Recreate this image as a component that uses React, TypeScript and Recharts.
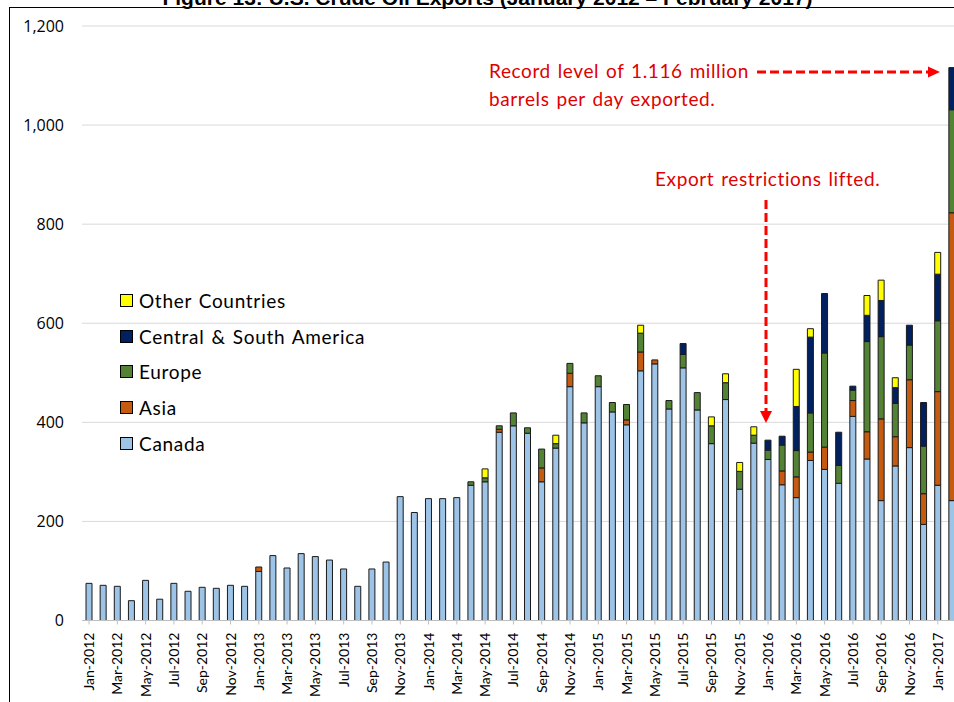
import React from "react";
import { BarChart, Bar, XAxis, YAxis, CartesianGrid } from "recharts";

const MONTHS = [
  "Jan-2012", "Feb-2012", "Mar-2012", "Apr-2012", "May-2012", "Jun-2012", "Jul-2012", "Aug-2012", "Sep-2012", "Oct-2012", "Nov-2012", "Dec-2012",
  "Jan-2013", "Feb-2013", "Mar-2013", "Apr-2013", "May-2013", "Jun-2013", "Jul-2013", "Aug-2013", "Sep-2013", "Oct-2013", "Nov-2013", "Dec-2013",
  "Jan-2014", "Feb-2014", "Mar-2014", "Apr-2014", "May-2014", "Jun-2014", "Jul-2014", "Aug-2014", "Sep-2014", "Oct-2014", "Nov-2014", "Dec-2014",
  "Jan-2015", "Feb-2015", "Mar-2015", "Apr-2015", "May-2015", "Jun-2015", "Jul-2015", "Aug-2015", "Sep-2015", "Oct-2015", "Nov-2015", "Dec-2015",
  "Jan-2016", "Feb-2016", "Mar-2016", "Apr-2016", "May-2016", "Jun-2016", "Jul-2016", "Aug-2016", "Sep-2016", "Oct-2016", "Nov-2016", "Dec-2016",
  "Jan-2017", "Feb-2017",
];

// thousand barrels per day, by destination
const canada = [
  75, 71, 69, 40, 81, 43, 75, 59, 67, 65, 71, 69,
  99, 131, 106, 135, 129, 122, 104, 69, 104, 118, 250, 218,
  246, 246, 248, 273, 280, 380, 393, 378, 280, 348, 472, 399,
  472, 421, 395, 504, 518, 427, 510, 425, 357, 446, 265, 358,
  325, 274, 248, 323, 305, 277, 412, 326, 242, 312, 349, 194,
  273, 242,
];
const asia = [
  0, 0, 0, 0, 0, 0, 0, 0, 0, 0, 0, 0,
  9, 0, 0, 0, 0, 0, 0, 0, 0, 0, 0, 0,
  0, 0, 0, 0, 0, 6, 0, 0, 28, 0, 27, 0,
  0, 0, 10, 38, 8, 0, 0, 0, 0, 0, 0, 0,
  0, 28, 42, 17, 45, 0, 32, 55, 165, 59, 137, 62,
  189, 581,
];
const europe = [
  0, 0, 0, 0, 0, 0, 0, 0, 0, 0, 0, 0,
  0, 0, 0, 0, 0, 0, 0, 0, 0, 0, 0, 0,
  0, 0, 0, 7, 8, 7, 26, 11, 38, 9, 20, 20,
  22, 19, 31, 38, 0, 17, 27, 35, 36, 34, 36, 16,
  19, 52, 53, 79, 190, 36, 21, 182, 166, 67, 70, 96,
  143, 208,
];
const centralSouthAmerica = [
  0, 0, 0, 0, 0, 0, 0, 0, 0, 0, 0, 0,
  0, 0, 0, 0, 0, 0, 0, 0, 0, 0, 0, 0,
  0, 0, 0, 0, 0, 0, 0, 0, 0, 0, 0, 0,
  0, 0, 0, 0, 0, 0, 22, 0, 0, 0, 0, 0,
  20, 18, 89, 153, 120, 67, 8, 53, 73, 32, 40, 88,
  94, 85,
];
const otherCountries = [
  0, 0, 0, 0, 0, 0, 0, 0, 0, 0, 0, 0,
  0, 0, 0, 0, 0, 0, 0, 0, 0, 0, 0, 0,
  0, 0, 0, 0, 18, 0, 0, 0, 0, 17, 0, 0,
  0, 0, 0, 16, 0, 0, 0, 0, 18, 18, 18, 17,
  0, 0, 75, 17, 0, 0, 0, 40, 41, 20, 0, 0,
  44, 0,
];

const Y_TICKS = [0, 200, 400, 600, 800, 1000, 1200];

// stacking order, bottom to top
const SERIES = [
  { key: "canada", name: "Canada", color: "#9dc3e6" },
  { key: "asia", name: "Asia", color: "#c55a11" },
  { key: "europe", name: "Europe", color: "#548235" },
  { key: "csa", name: "Central & South America", color: "#002060" },
  { key: "other", name: "Other Countries", color: "#ffff00" },
];

const data = MONTHS.map((m, i) => ({
  month: m,
  canada: canada[i],
  asia: asia[i],
  europe: europe[i],
  csa: centralSouthAmerica[i],
  other: otherCountries[i],
}));

const RED = "#e00000";
const LABEL_FONT = "Lato, 'Open Sans', sans-serif";

function MonthTick(props: any) {
  const { x, y, payload } = props;
  return (
    <text
      x={x}
      y={y}
      dy="0.36em"
      transform={`rotate(-90, ${x}, ${y})`}
      textAnchor="end"
      fontFamily={LABEL_FONT}
      fontSize={14}
      fill="#000"
    >
      {payload.value}
    </text>
  );
}

const noteStyle = { letterSpacing: 0.6, wordSpacing: 1.5 };

export default function App() {
  return (
    <div style={{ position: "absolute", left: 0, top: 0, width: 954, height: 702, overflow: "hidden", background: "#fff" }}>
      {/* chart frame */}
      <div style={{ position: "absolute", left: 9, top: 7, width: 1000, height: 760, border: "1px solid #000" }} />

      <div style={{ position: "absolute", left: 0, top: 0 }}>
        <BarChart width={959} height={702} data={data} margin={{ top: 26, right: 0, bottom: 0, left: 0 }} barSize={6}>
          <CartesianGrid vertical={false} stroke="#d9d9d9" />
          <XAxis
            dataKey="month"
            interval={1}
            height={81.5}
            tick={<MonthTick />}
            tickSize={4}
            tickMargin={8}
            axisLine={{ stroke: "#bfbfbf" }}
            tickLine={{ stroke: "#bfbfbf" }}
          />
          <YAxis
            domain={[0, 1200]}
            ticks={Y_TICKS}
            width={82}
            axisLine={false}
            tickLine={false}
            tickSize={0}
            tickMargin={18}
            tickFormatter={(v: number) => v.toLocaleString("en-US")}
            tick={{ fontFamily: "'Open Sans', sans-serif", fontSize: 16, fill: "#000" }}
          />
          {SERIES.map((s) => (
            <Bar
              key={s.key}
              dataKey={s.key}
              name={s.name}
              stackId="exports"
              fill={s.color}
              stroke="#1a1a1a"
              strokeWidth={1}
              isAnimationActive={false}
            />
          ))}
        </BarChart>
      </div>

      {/* legend */}
      <div style={{ position: "absolute", left: 120, top: 283, fontFamily: LABEL_FONT, fontSize: 19, letterSpacing: 0.7, wordSpacing: 1.5, color: "#000" }}>
        {[...SERIES].reverse().map((s) => (
          <div key={s.key} style={{ display: "flex", alignItems: "center", height: 35.6 }}>
            <span style={{ display: "inline-block", width: 11, height: 11, background: s.color, border: "1px solid #000", marginRight: 6 }} />
            <span>{s.name}</span>
          </div>
        ))}
      </div>

      {/* title and annotations */}
      <svg width={954} height={702} style={{ position: "absolute", left: 0, top: 0, pointerEvents: "none" }}>
        <text x={487.5} y={5} textAnchor="middle" fontFamily="'Liberation Sans', Arial, sans-serif" fontWeight="bold" fontSize={21} fill="#000">
          Figure 13: U.S. Crude Oil Exports (January 2012 – February 2017)
        </text>

        <text x={489} y={78} fontFamily={LABEL_FONT} fontSize={19} fill={RED} style={noteStyle}>Record level of 1.116 million</text>
        <text x={489} y={106} fontFamily={LABEL_FONT} fontSize={19} fill={RED} style={noteStyle}>barrels per day exported.</text>
        <line x1={757} y1={72} x2={929} y2={72} stroke="#ff0000" strokeWidth={3} strokeDasharray="9 4" />
        <polygon points="928,66.5 940,72 928,77.5" fill="#ff0000" />

        <text x={655} y={186} fontFamily={LABEL_FONT} fontSize={19} fill={RED} style={noteStyle}>Export restrictions lifted.</text>
        <line x1={766} y1={200} x2={766} y2={412} stroke="#ff0000" strokeWidth={3} strokeDasharray="9 4" />
        <polygon points="760,411 772,411 766,423" fill="#ff0000" />
      </svg>
    </div>
  );
}
